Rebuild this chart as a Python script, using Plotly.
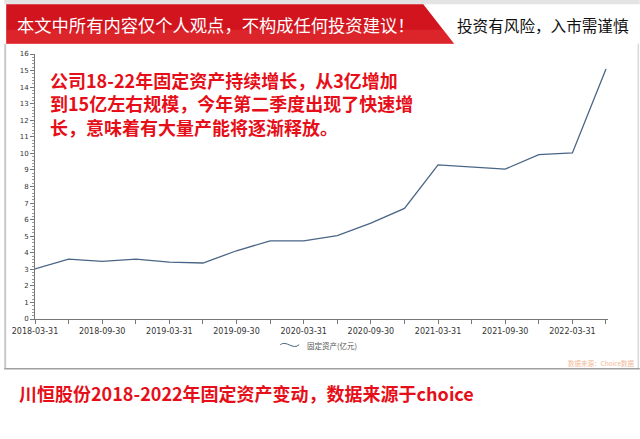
import plotly.graph_objects as go

# quarterly fixed assets of 川恒股份 (亿元)
quarters = ['2018-03-31', '2018-06-30', '2018-09-30', '2018-12-31',
            '2019-03-31', '2019-06-30', '2019-09-30', '2019-12-31',
            '2020-03-31', '2020-06-30', '2020-09-30', '2020-12-31',
            '2021-03-31', '2021-06-30', '2021-09-30', '2021-12-31',
            '2022-03-31', '2022-06-30']
fixed_assets = [3.02, 3.62, 3.48, 3.62, 3.44, 3.38, 4.12, 4.72, 4.72,
                5.03, 5.79, 6.68, 9.31, 9.19, 9.05, 9.93, 10.03, 15.09]
tick_labels = [q if i % 2 == 0 else '' for i, q in enumerate(quarters)]

W, H = 640, 439
L, R, T, B = 31, 608, 54.2, 319.3
CJK = 'Noto Sans CJK SC'


def px(x):
    return (x - L) / (R - L)


def py(y):
    return (B - y) / (B - T)


fig = go.Figure()
fig.add_trace(go.Scatter(
    x=quarters, y=fixed_assets, mode='lines', name='固定资产(亿元)',
    line=dict(color='#4a6585', width=1.3),
))

shapes = [
    # top grey strip
    dict(type='rect', x0=px(0), x1=px(W), y0=py(0), y1=py(4.5),
         fillcolor='#e4e4e4', line_width=0),
    # red banner with slanted edge
    dict(type='path',
         path=f'M {px(2)},{py(4.5)} L {px(422)},{py(4.5)} L {px(453)},{py(44)} L {px(2)},{py(44)} Z',
         fillcolor='#d2141e', line_width=0),
    dict(type='path',
         path=f'M {px(2)},{py(30)} L {px(442)},{py(30)} L {px(453)},{py(44)} L {px(2)},{py(44)} Z',
         fillcolor='rgba(240,70,70,0.35)', line_width=0),
    # frame around chart area
    dict(type='line', x0=px(1), x1=px(1), y0=py(44), y1=py(369),
         line=dict(color='#c8c8c8', width=2)),
    dict(type='line', x0=px(638.5), x1=px(638.5), y0=py(44), y1=py(369),
         line=dict(color='#d8d8d8', width=1.5)),
    dict(type='line', x0=px(0), x1=px(W), y0=py(369), y1=py(369),
         line=dict(color='#a0a0a0', width=1.5)),
    # legend swatch
    dict(type='path',
         path=f'M {px(278)},{py(345)} C {px(284)},{py(340)} {px(291)},{py(351)} {px(297)},{py(345)}',
         line=dict(color='#4a6585', width=1)),
]

comment = ('<b>公司18-22年固定资产持续增长，从3亿增加<br>'
           '到15亿左右规模，今年第二季度出现了快速增<br>'
           '长，意味着有大量产能将逐渐释放。</b>')

annotations = [
    dict(text='本文中所有内容仅个人观点，不构成任何投资建议！', x=px(11), y=py(24.5),
         xanchor='left', yanchor='middle', font=dict(family=CJK, size=17.3, color='white')),
    dict(text='投资有风险，入市需谨慎', x=px(454), y=py(25),
         xanchor='left', yanchor='middle', font=dict(family=CJK, size=15.6, color='#111')),
    dict(text=comment, x=px(44), y=py(104), align='left',
         xanchor='left', yanchor='middle', font=dict(family=CJK, size=18, color='#e60f19')),
    dict(text='固定资产(亿元)', x=px(303), y=py(346),
         xanchor='left', yanchor='middle', font=dict(family=CJK, size=7.5, color='#555')),
    dict(text='数据来源：Choice数据', x=px(637), y=py(363.5),
         xanchor='right', yanchor='middle', font=dict(family=CJK, size=6.5, color='#f2b99a')),
    dict(text='<b>川恒股份2018-2022年固定资产变动，数据来源于choice</b>', x=px(13), y=py(393),
         xanchor='left', yanchor='middle', font=dict(family=CJK, size=18, color='#e60f19')),
]
for a in annotations:
    a.update(xref='paper', yref='paper', showarrow=False)
for s in shapes:
    s.update(xref='paper', yref='paper', layer='below')

fig.update_layout(
    width=W, height=H,
    margin=dict(l=L, r=W - R, t=T, b=H - B),
    paper_bgcolor='white', plot_bgcolor='white',
    showlegend=False,
    shapes=shapes, annotations=annotations,
    font=dict(family='DejaVu Sans', size=8, color='#333'),
)
fig.update_xaxes(
    type='category', range=[0, 17.06],
    tickvals=quarters, ticktext=tick_labels,
    showgrid=False, showline=True, linecolor='#777', linewidth=1,
    ticks='outside', ticklen=4, tickcolor='#777',
    tickfont=dict(size=8, color='#333'), tickangle=0,
)
fig.update_yaxes(
    range=[0, 16], dtick=1, showgrid=False, zeroline=False,
    showline=True, linecolor='#777', linewidth=1,
    ticks='outside', ticklen=4, tickcolor='#777',
    tickfont=dict(size=7, color='#333'),
    minor=dict(dtick=0.2, ticks='outside', ticklen=2, tickcolor='#999'),
)

# page has a default 8px body margin; drop it so the figure sits at 0,0
fig.write_html('out.html', config={'displayModeBar': False},
               post_script="document.body.style.margin='0';")
